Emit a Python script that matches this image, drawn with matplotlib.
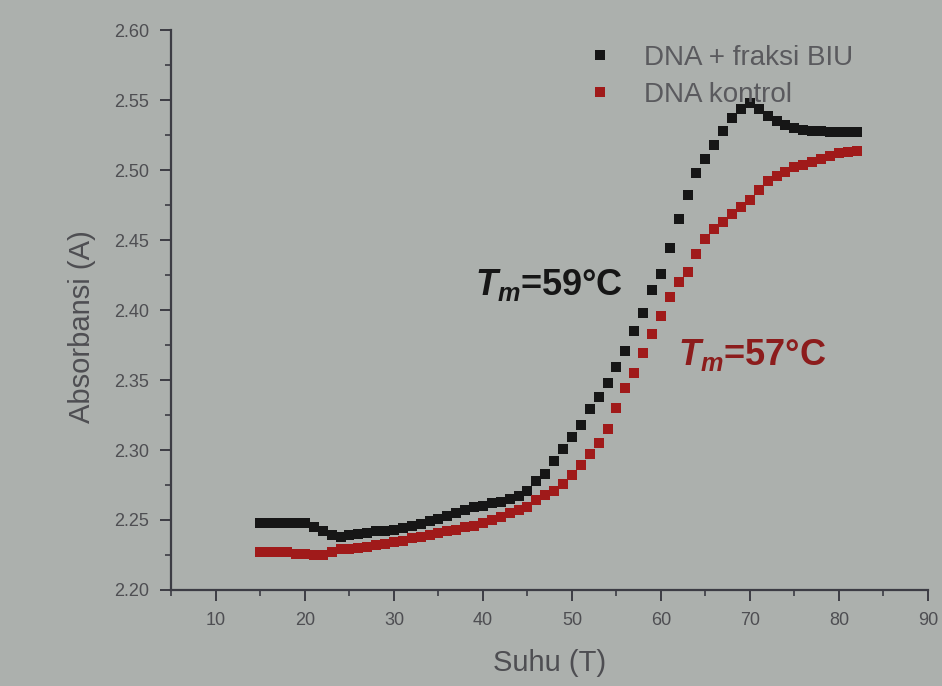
import matplotlib
matplotlib.use("Agg")
import matplotlib.pyplot as plt
from matplotlib.ticker import MultipleLocator

# Temperature (deg C), one reading per degree
suhu = list(range(15, 83))

# DNA + fraksi BIU (black)
abs_biu = [
    2.248, 2.248, 2.248, 2.248, 2.248, 2.248, 2.245, 2.242, 2.239, 2.238,
    2.239, 2.240, 2.241, 2.242, 2.242, 2.243, 2.244, 2.246, 2.247, 2.249,
    2.251, 2.253, 2.255, 2.257, 2.259, 2.260, 2.262, 2.263, 2.265, 2.267,
    2.271, 2.278, 2.283, 2.292, 2.301, 2.309, 2.318, 2.329, 2.338, 2.348,
    2.359, 2.371, 2.385, 2.398, 2.414, 2.426, 2.444, 2.465, 2.482, 2.498,
    2.508, 2.518, 2.528, 2.537, 2.544, 2.548, 2.544, 2.539, 2.535, 2.532,
    2.530, 2.529, 2.528, 2.528, 2.527, 2.527, 2.527, 2.527,
]

# DNA kontrol (red)
abs_kontrol = [
    2.227, 2.227, 2.227, 2.227, 2.226, 2.226, 2.225, 2.225, 2.227, 2.229,
    2.229, 2.230, 2.231, 2.232, 2.233, 2.234, 2.235, 2.237, 2.238, 2.239,
    2.241, 2.242, 2.243, 2.245, 2.246, 2.248, 2.250, 2.252, 2.255, 2.257,
    2.259, 2.264, 2.268, 2.271, 2.276, 2.282, 2.289, 2.297, 2.305, 2.315,
    2.330, 2.344, 2.355, 2.369, 2.383, 2.396, 2.409, 2.420, 2.427, 2.440,
    2.451, 2.458, 2.463, 2.469, 2.474, 2.479, 2.486, 2.492, 2.496, 2.499,
    2.502, 2.504, 2.506, 2.508, 2.510, 2.512, 2.513, 2.514,
]

series_labels = ["DNA + fraksi BIU", "DNA kontrol"]
tm_labels = [r"$T_m$=59°C", r"$T_m$=57°C"]

bg = "#acb0ad"
axis_col = "#3c3c44"
text_col = "#4e4e52"
black = "#161616"
red = "#a01a1a"

plt.rcParams["font.family"] = ["Liberation Sans", "DejaVu Sans"]
plt.rcParams["mathtext.fontset"] = "custom"
plt.rcParams["mathtext.it"] = "Liberation Sans:italic:bold"
plt.rcParams["mathtext.rm"] = "Liberation Sans:bold"

fig = plt.figure(figsize=(9.42, 6.86), dpi=100, facecolor=bg)
ax = fig.add_axes([0.182, 0.140, 0.803, 0.816], facecolor=bg)

ax.plot(suhu, abs_biu, "s", color=black, markersize=7, markeredgewidth=0,
        label=series_labels[0])
ax.plot(suhu, abs_kontrol, "s", color=red, markersize=7, markeredgewidth=0,
        label=series_labels[1])

ax.set_xlim(5, 90)
ax.set_ylim(2.20, 2.60)
ax.xaxis.set_minor_locator(MultipleLocator(5))
ax.yaxis.set_major_locator(MultipleLocator(0.05))
ax.yaxis.set_minor_locator(MultipleLocator(0.025))
ax.set_xticks(range(10, 100, 10))
ax.yaxis.set_major_formatter(plt.FormatStrFormatter("%.2f"))

for side in ("top", "right"):
    ax.spines[side].set_visible(False)
for side in ("left", "bottom"):
    ax.spines[side].set_color(axis_col)
    ax.spines[side].set_linewidth(1.6)

ax.tick_params(which="major", length=8, width=1.4, color=axis_col,
               labelcolor=text_col, labelsize=13, pad=8)
ax.tick_params(which="minor", length=4, width=1.2, color=axis_col)

ax.set_xlabel("Suhu (T)", fontsize=21, color=text_col, labelpad=14)
ax.set_ylabel("Absorbansi (A)", fontsize=21, color=text_col)
ax.yaxis.set_label_coords(-0.10, 0.47)

# Tm annotations
ax.text(39.1, 2.418, tm_labels[0], fontsize=26, fontweight="bold",
        color=black, va="center", ha="left")
ax.text(61.9, 2.368, tm_labels[1], fontsize=26, fontweight="bold",
        color="#8c1c1c", va="center", ha="left")

leg = ax.legend(loc="upper left", bbox_to_anchor=(0.515, 1.018), frameon=False,
                fontsize=20, handlelength=1.0, handletextpad=1.1,
                labelspacing=0.4, markerscale=1.1)
for t in leg.get_texts():
    t.set_color("#5a5a5e")

fig.savefig("out.png", dpi=100, facecolor=bg)
